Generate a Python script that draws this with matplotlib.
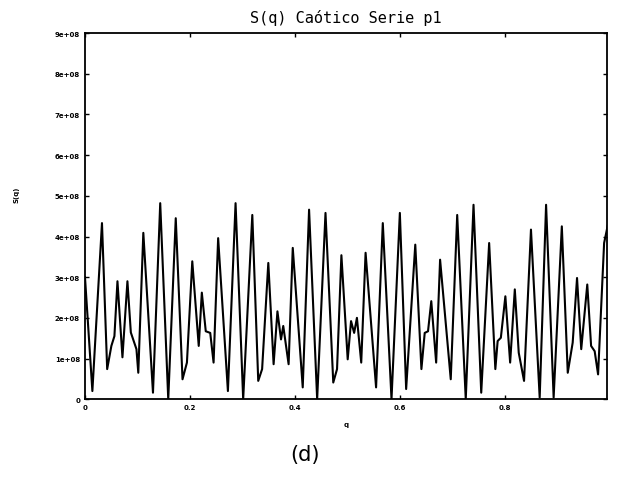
import numpy as np
import matplotlib
matplotlib.use('Agg')
import matplotlib.pyplot as plt

# values (x in q, y in units of 1e8)
q = [0.0, 0.0141, 0.0324, 0.0423, 0.0503, 0.0561, 0.0619, 0.0714, 0.0809, 0.0874,
     0.0981, 0.1016, 0.1112, 0.1296, 0.1434, 0.1587, 0.1730, 0.1859, 0.1943, 0.2045,
     0.2168, 0.2227, 0.2302, 0.2387, 0.2451, 0.2538, 0.2724, 0.2870, 0.3015, 0.3189,
     0.3302, 0.3376, 0.3494, 0.3595, 0.3668, 0.3736, 0.3779, 0.3881, 0.3960, 0.4150,
     0.4271, 0.4425, 0.4584, 0.4732, 0.4804, 0.4887, 0.5007, 0.5071, 0.5130, 0.5183,
     0.5265, 0.5348, 0.5548, 0.5676, 0.5842, 0.6001, 0.6121, 0.6295, 0.6412, 0.6475,
     0.6538, 0.6600, 0.6693, 0.6768, 0.6971, 0.7094, 0.7257, 0.7405, 0.7552, 0.7703,
     0.7821, 0.7865, 0.7926, 0.8012, 0.8103, 0.8192, 0.8267, 0.8368, 0.8500, 0.8666,
     0.8788, 0.8932, 0.9088, 0.9201, 0.9295, 0.9378, 0.9458, 0.9573, 0.9646, 0.9714,
     0.9779, 0.9894, 1.0]
s = [3.00, 0.20, 4.33, 0.74, 1.31, 1.55, 2.90, 1.03, 2.90, 1.64,
     1.23, 0.65, 4.09, 0.16, 4.82, 0.00, 4.45, 0.49, 0.90, 3.39,
     1.31, 2.62, 1.67, 1.63, 0.90, 3.96, 0.20, 4.82, 0.00, 4.53,
     0.45, 0.74, 3.35, 0.86, 2.16, 1.47, 1.80, 0.86, 3.72, 0.29,
     4.66, 0.00, 4.58, 0.41, 0.74, 3.54, 0.98, 1.92, 1.63, 2.00,
     0.90, 3.60, 0.29, 4.33, 0.00, 4.58, 0.25, 3.80, 0.74, 1.63,
     1.67, 2.41, 0.90, 3.43, 0.49, 4.53, 0.00, 4.78, 0.16, 3.84,
     0.74, 1.43, 1.51, 2.53, 0.90, 2.70, 1.14, 0.45, 4.17, 0.04,
     4.78, 0.04, 4.25, 0.65, 1.39, 2.98, 1.23, 2.82, 1.31, 1.18,
     0.61, 3.84, 4.50]

yticks = [0, 1e8, 2e8, 3e8, 4e8, 5e8, 6e8, 7e8, 8e8, 9e8]
ylabels = ['0', '1e+08', '2e+08', '3e+08', '4e+08', '5e+08', '6e+08', '7e+08', '8e+08', '9e+08']
xticks = [0, 0.2, 0.4, 0.6, 0.8]
xlabels = ['0', '0.2', '0.4', '0.6', '0.8']

fig = plt.figure(figsize=(6.23, 4.81), dpi=100)
ax = fig.add_axes([0.1364, 0.168, 0.838, 0.761])

ax.plot(q, np.array(s) * 1e8, color='black', linewidth=1.5)

ax.set_xlim(0, 0.995)
ax.set_ylim(0, 9e8)
ax.set_xticks(xticks)
ax.set_xticklabels(xlabels)
ax.set_yticks(yticks)
ax.set_yticklabels(ylabels)
ax.tick_params(direction='in', top=True, right=True, labelsize=5, length=3, width=1)
for lab in ax.get_xticklabels() + ax.get_yticklabels():
    lab.set_fontweight('bold')
for sp in ax.spines.values():
    sp.set_linewidth(1.3)

ax.set_xlabel('q', fontsize=5, fontweight='bold', labelpad=8)
ax.set_ylabel('S(q)', fontsize=5, fontweight='bold')
ax.yaxis.set_label_coords(-0.125, 0.56)
ax.set_title('S(q) Caótico Serie p1', fontsize=11, family='DejaVu Sans Mono', pad=8)

fig.text(0.49, 0.055, '(d)', fontsize=15, ha='center', va='center')

fig.savefig('out.png', dpi=100)
